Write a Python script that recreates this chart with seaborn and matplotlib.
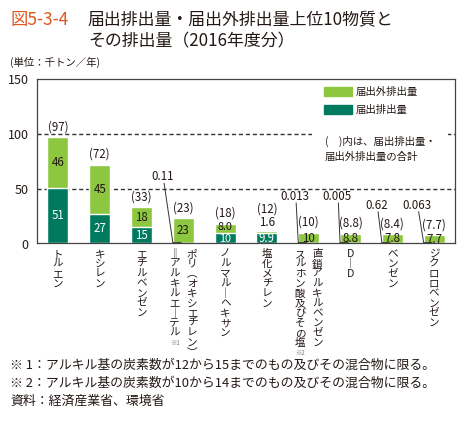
import matplotlib
matplotlib.use("Agg")
import matplotlib.pyplot as plt
import seaborn as sns
from matplotlib.patches import Patch, Rectangle

# data (千トン/年, 2016年度)
substances = ["トルエン", "キシレン", "エチルベンゼン", "ポリ(オキシエチレン)=アルキルエーテル",
              "ノルマル-ヘキサン", "塩化メチレン", "直鎖アルキルベンゼンスルホン酸及びその塩",
              "D-D", "ベンゼン", "ジクロロベンゼン"]
notified = [51, 27, 15, 0.11, 10, 9.9, 0.013, 0.005, 0.62, 0.063]
non_notified = [46, 45, 18, 23, 8.0, 1.6, 10, 8.8, 7.8, 7.7]
notified_text = ["51", "27", "15", "0.11", "10", "9.9", "0.013", "0.005", "0.62", "0.063"]
non_notified_text = ["46", "45", "18", "23", "8.0", "1.6", "10", "8.8", "7.8", "7.7"]
total_text = ["(97)", "(72)", "(33)", "(23)", "(18)", "(12)", "(10)", "(8.8)", "(8.4)", "(7.7)"]

# vertical (tategaki) tick labels, right column first
label_columns = [["トルエン"], ["キシレン"], ["エチルベンゼン"],
                 ["ポリ︵オキシエチレン︶", "‖アルキルエ｜テル"],
                 ["ノルマル｜ヘキサン"], ["塩化メチレン"],
                 ["直鎖アルキルベンゼン", "スルホン酸及びその塩"],
                 ["D｜D"], ["ベンゼン"], ["ジクロロベンゼン"]]
label_notes = ["", "", "", "※1", "", "", "※2", "", "", ""]

LIGHT = "#8dc63f"
DARK = "#007a5e"
TEXT = "#231815"

sns.set_style("white")
plt.rcParams["font.family"] = ["Noto Sans CJK JP", "DejaVu Sans"]

fig = plt.figure(figsize=(4.66, 4.23), dpi=100)
W, H = 466, 423
ax = fig.add_axes([37 / W, 1 - 243.5 / H, 418 / W, 164.5 / H])

totals = [a + b for a, b in zip(notified, non_notified)]
sns.barplot(x=substances, y=totals, color=LIGHT, saturation=1, width=0.5,
            errorbar=None, ax=ax, zorder=2)
sns.barplot(x=substances, y=notified, color=DARK, saturation=1, width=0.5,
            errorbar=None, ax=ax, zorder=2)

ax.set_xlim(-0.5, 9.5)
ax.set_ylim(0, 150)
ax.set_yticks([0, 50, 100, 150])
ax.tick_params(axis="y", length=0, pad=6, labelsize=9, labelcolor=TEXT)
ax.set_xticks([])
ax.set_xlabel("")
ax.set_ylabel("")
for s in ax.spines.values():
    s.set_color("#444444")
    s.set_linewidth(0.9)
for yv in [50, 100]:
    ax.axhline(yv, color="#333333", lw=1.0, ls=(0, (3, 2)), zorder=1)

# values inside / above bars
for i in range(len(substances)):
    d, n = notified[i], non_notified[i]
    top = d + n
    fs = 7.8 if i == 4 else 8.3
    if d >= 5:
        yy = d / 2 - (0.8 if i == 4 else 0)
        ax.text(i, yy, notified_text[i], ha="center", va="center",
                color="white", fontsize=fs, zorder=4)
    if i == 5:
        ax.annotate(non_notified_text[i], (i, top), xytext=(0, 6), textcoords="offset points",
                    ha="center", va="center", fontsize=8.3, color=TEXT)
        ax.annotate(total_text[i], (i, top), xytext=(0, 16), textcoords="offset points",
                    ha="center", va="center", fontsize=8.3, color=TEXT)
    else:
        yy = d + n / 2 + (1.5 if i == 4 else 0)
        ax.text(i, yy, non_notified_text[i], ha="center", va="center",
                color=TEXT, fontsize=fs, zorder=4)
        ax.annotate(total_text[i], (i, top), xytext=(0, 7.5), textcoords="offset points",
                    ha="center", va="center", fontsize=8.3, color=TEXT)

# tiny 届出排出量 values with leader lines
small_pos = {3: (-0.49, 61), 6: (-0.33, 43), 7: (-0.32, 43), 8: (-0.37, 35), 9: (-0.40, 35)}
for i, (dx, yv) in small_pos.items():
    ax.text(i + dx, yv, notified_text[i], ha="center", va="center",
            fontsize=8.3, color=TEXT, zorder=4)
    ax.plot([i + dx + 0.03, i - 0.25, i - 0.05], [yv - 6, 0.8, 0.8],
            color="#333333", lw=0.7, zorder=5, clip_on=False)

# legend
ax.add_patch(Rectangle((0.658, 0.47), 0.325, 0.25, transform=ax.transAxes,
                       facecolor="white", edgecolor="none", zorder=1.5))
ax.legend(handles=[Patch(color=LIGHT, label="届出外排出量"), Patch(color=DARK, label="届出排出量")],
          loc="upper left", bbox_to_anchor=(0.686, 0.95), frameon=False, fontsize=7.5,
          handlelength=2.7, handleheight=0.85, handletextpad=0.4, labelspacing=0.75,
          borderpad=0, borderaxespad=0, labelcolor=TEXT)
ax.text(0.689, 0.655, "(　)内は、届出排出量・\n届出外排出量の合計", transform=ax.transAxes,
        ha="left", va="top", fontsize=7.5, color=TEXT, linespacing=1.6, zorder=3)

# vertical category labels
pitch = 7.1
for i, cols in enumerate(label_columns):
    offsets = [0] if len(cols) == 1 else [6.2, -6.2]
    for col, dxp in zip(cols, offsets):
        for k, ch in enumerate(col):
            ax.annotate(ch, (i, 0), xycoords=("data", "axes fraction"),
                        xytext=(dxp, -4 - k * pitch), textcoords="offset points",
                        ha="center", va="top", fontsize=7.6, color=TEXT, annotation_clip=False)
    if label_notes[i]:
        n_chars = len(cols[-1])
        ax.annotate(label_notes[i], (i, 0), xycoords=("data", "axes fraction"),
                    xytext=(offsets[-1], -5 - n_chars * pitch), textcoords="offset points",
                    ha="center", va="top", fontsize=4.5, color="#777777", annotation_clip=False)

# title, unit, notes
fig.text(10 / W, 1 - 20 / H, "図5-3-4", ha="left", va="center", fontsize=12.5, color="#e0561f")
fig.text(88 / W, 1 - 20 / H, "届出排出量・届出外排出量上位10物質と", ha="left", va="center",
         fontsize=12.2, color=TEXT)
fig.text(88 / W, 1 - 41 / H, "その排出量（2016年度分）", ha="left", va="center",
         fontsize=12.2, color=TEXT)
fig.text(10 / W, 1 - 62 / H, "(単位：千トン／年)", ha="left", va="center", fontsize=7.5, color=TEXT)
fig.text(10 / W, 1 - 365 / H, "※ 1：アルキル基の炭素数が12から15までのもの及びその混合物に限る。",
         ha="left", va="center", fontsize=9.3, color=TEXT)
fig.text(10 / W, 1 - 383 / H, "※ 2：アルキル基の炭素数が10から14までのもの及びその混合物に限る。",
         ha="left", va="center", fontsize=9.3, color=TEXT)
fig.text(10 / W, 1 - 401 / H, "資料：経済産業省、環境省", ha="left", va="center", fontsize=9.3, color=TEXT)

fig.savefig("out.png", dpi=100)
